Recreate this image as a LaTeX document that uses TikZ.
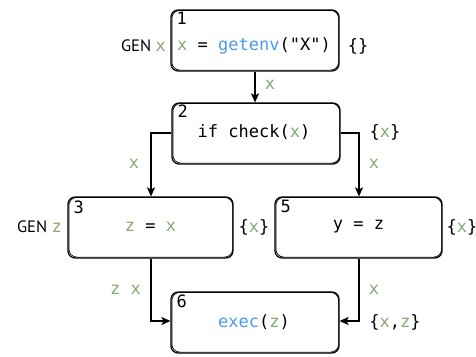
\documentclass[tikz,border=0pt]{standalone}
\usepackage{fontspec}
\setmainfont{PT Sans}
\setmonofont{DejaVu Sans Mono}
\usetikzlibrary{arrows.meta,calc}
\definecolor{vg}{HTML}{82AA6E}
\definecolor{fb}{HTML}{4A9CE8}
\newcommand{\gv}[1]{\textcolor{vg}{#1}}
\newcommand{\fn}[1]{\textcolor{fb}{#1}}
\tikzset{
  blk/.style={draw, rounded corners=7pt, line width=1.2pt, inner sep=0pt},
  code/.style={font=\fontsize{17}{20}\selectfont\ttfamily, inner sep=0pt},
  num/.style={font=\fontsize{17}{20}\selectfont\ttfamily, inner sep=0pt, anchor=north west},
  gen/.style={font=\fontsize{16.5}{19}\selectfont, inner sep=0pt},
  edge/.style={line width=1.2pt, -{Stealth[length=9pt,width=8pt,inset=2pt]}},
}
\newcommand{\sk}[1]{\draw[rounded corners=8pt, line width=.7pt] ($(#1.north west)+(1.5,1)$) rectangle ($(#1.south east)+(-1,-1.5)$);}
\begin{document}
\begin{tikzpicture}[x=1pt,y=-1pt]
\useasboundingbox (0,0) rectangle (476,356);
% boxes
\node[blk, minimum width=168pt, minimum height=61pt] (b1) at (255,40.5) {};
\node[blk, minimum width=168pt, minimum height=61pt] (b2) at (256,133.5) {};
\node[blk, minimum width=165pt, minimum height=61pt] (b3) at (150.5,227.5) {};
\node[blk, minimum width=167pt, minimum height=61pt] (b5) at (358.5,227.5) {};
\node[blk, minimum width=168pt, minimum height=61pt] (b6) at (255,322.5) {};
\sk{b1}\sk{b2}\sk{b3}\sk{b5}\sk{b6}
% numbers
\node[num] (n1) at ($(b1.north west)+(6,2.5)$) {1};
\node[num] (n2) at ($(b2.north west)+(6,2.5)$) {2};
\node[num] (n3) at ($(b3.north west)+(6,4)$) {3};
\node[num] (n5) at ($(b5.north west)+(6,4)$) {5};
\node[num] (n6) at ($(b6.north west)+(6,3.5)$) {6};
% code texts
\node[code] (t1) at (254,46) {\gv{x} = \fn{getenv}("X")};
\node[code] (t2) at (254,132) {if check(\gv{x})};
\node[code] (t3) at (150.5,227) {\gv{z} = \gv{x}};
\node[code] (t5) at (358.5,227) {y = z};
\node[code] (t6) at (254,322) {\fn{exec}(\gv{z})};
% outside labels
\node[gen, anchor=east] (g1) at (166,46) {GEN \gv{\ttfamily\fontsize{17}{20}\selectfont x}};
\node[gen, anchor=east] (g3) at (62,227) {GEN \gv{\ttfamily\fontsize{17}{20}\selectfont z}};
\node[code] (o1) at (358,46) {\{\}};
\node[code] (e12) at (270,85) {\gv{x}};
\node[code] (o2) at (385,132) {\{\gv{x}\}};
\node[code] (e23) at (134,164) {\gv{x}};
\node[code] (e25) at (374,164) {\gv{x}};
\node[code] (o3) at (254,227) {\{\gv{x}\}};
\node[code] (o5) at (462,227) {\{\gv{x}\}};
\node[code] (e36) at (125.5,290) {\gv{z x}};
\node[code] (e56) at (374,290) {\gv{x}};
\node[code] (o6) at (395,322) {\{\gv{x},\gv{z}\}};
% connectors
\draw[edge] (b1.south -| 255,0) -- (b2.north -| 255,0);
\draw[edge] (b2.west |- 0,133) -| (b3.north -| 151,0);
\draw[edge] (b2.east |- 0,133) -| (b5.north -| 359,0);
\draw[edge] (b3.south -| 151,0) |- (b6.west |- 0,321);
\draw[edge] (b5.south -| 359,0) |- (b6.east |- 0,321);
\end{tikzpicture}
\end{document}
